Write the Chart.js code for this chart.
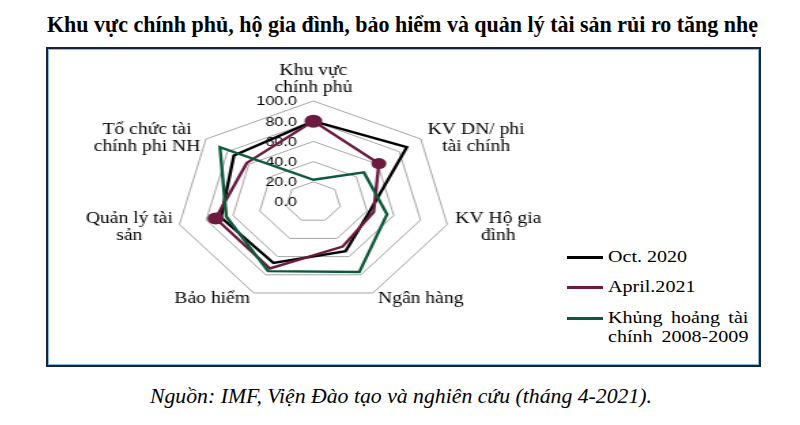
<!DOCTYPE html>
<html>
<head>
<meta charset="utf-8">
<script src="https://cdn.jsdelivr.net/npm/chart.js@4.4.1/dist/chart.umd.min.js"></script>
<style>
  html, body { margin: 0; padding: 0; background: #fff; }
  body { width: 800px; height: 425px; position: relative; overflow: hidden; }
  #title {
    position: absolute; left: 47px; top: 10px; white-space: nowrap;
    font: bold 24px/28px "Liberation Serif", "Times New Roman", serif;
    color: #000; transform-origin: 0 0;
  }
  #box {
    position: absolute; left: 46px; top: 47px; width: 711px; height: 316px;
    border: 2px solid #15263b; box-shadow: inset 0 0 0 1px #8ab8e0;
  }
  #radarWrap {
    position: absolute; left: 40px; top: 40px; width: 382px; height: 290px;
    transform: scaleX(1.36); transform-origin: 0 0;
  }
  .legend-row { position: absolute; left: 567px; height: 20px; }
  .legend-line { position: absolute; left: 0; width: 36px; height: 3px; }
  .legend-text {
    position: absolute; left: 41px; white-space: nowrap;
    font: 17px/19px "Liberation Serif", "Times New Roman", serif; color: #000;
    transform: scaleX(1.18); transform-origin: 0 0;
  }
  .legend-text.multi { white-space: normal; width: 119px; text-align: justify; text-align-last: justify; }
  #source {
    position: absolute; left: 150px; top: 383px; white-space: nowrap;
    font: italic 22px/25px "Liberation Serif", "Times New Roman", serif;
    color: #000; transform-origin: 0 0;
  }
</style>
</head>
<body>
<div id="title">Khu vực chính phủ, hộ gia đình, bảo hiểm và quản lý tài sản rủi ro tăng nhẹ</div>
<div id="box"></div>
<div id="radarWrap"><canvas id="radarChart" width="382" height="290"></canvas></div>
<div id="legend"></div>
<div id="source">Nguồn: IMF, Viện Đào tạo và nghiên cứu (tháng 4-2021).</div>

<script>
// Categories (spokes), clockwise from the top
const categoryLabels = [
    ['Khu vực', 'chính phủ'],
    ['KV DN/ phi', 'tài chính'],
    ['KV Hộ gia', 'đình'],
    'Ngân hàng',
    'Bảo hiểm',
    ['Quản lý tài', 'sản'],
    ['Tổ chức tài', 'chính phi NH']
];

// Series values
const octValues = [80, 87, 42, 54, 67, 69, 74];
const aprilValues = [80, 61, 45, 49, 73, 73, 62];
const crisisValues = [22, 47, 55, 77, 76, 65, 87];

// Series names (legend) and tick labels
const seriesNames = [['Oct. 2020'], ['April.2021'], ['Khủng hoảng tài', 'chính 2008-2009']];
const tickLabels = ['0.0', '20.0', '40.0', '60.0', '80.0', '100.0'];

const colors = {
    oct: '#000000',
    april: '#6d1a40',
    crisis: '#0d5a3b'
};

// Markers only on a few April points, as in the source chart
const aprilDots = [6.5, 5.5, 0, 0, 0, 6, 0];

const labelFont = '16px "Liberation Serif", "Times New Roman", serif';
const labelLineH = 17.5;
const labelTextScale = 0.9;

// Draws tick labels (left of the vertical axis) and centred multi-line spoke labels
const radarText = {
    id: 'radarText',
    beforeDatasetsDraw(chart) {
        const scale = chart.scales.r;
        const ctx = chart.ctx;
        ctx.save();
        ctx.fillStyle = '#000';
        ctx.font = '12px "Liberation Sans", Arial, sans-serif';
        ctx.textAlign = 'right';
        ctx.textBaseline = 'middle';
        scale.ticks.forEach(t => {
            const y = scale.yCenter - scale.getDistanceFromCenterForValue(t.value);
            ctx.fillText(t.label, scale.xCenter - 12, y + 1);
        });
        ctx.restore();
    },
    afterDraw(chart) {
        const scale = chart.scales.r;
        const ctx = chart.ctx;
        ctx.save();
        ctx.fillStyle = '#000';
        ctx.font = labelFont;
        chart.data.labels.forEach((lab, i) => {
            const lines = Array.isArray(lab) ? lab : [lab];
            const bw = Math.max(...lines.map(l => ctx.measureText(l).width * labelTextScale));
            const bh = lines.length * labelLineH;
            const p = scale.getPointPosition(i, scale.drawingArea + 4);
            const c = Math.cos(p.angle), s = Math.sin(p.angle);

            let left;
            if (Math.abs(c) < 0.1) left = p.x - bw / 2;
            else if (c > 0) left = p.x + 2;
            else left = p.x - bw - 1;

            const top = s < -0.95 ? p.y - bh : p.y - bh / 2 + 2;

            lines.forEach((l, j) => {
                ctx.save();
                ctx.translate(left + bw / 2, top + labelLineH * (j + 0.5));
                ctx.scale(labelTextScale, 1);
                ctx.textAlign = 'center';
                ctx.textBaseline = 'middle';
                ctx.fillText(l, 0, 0);
                ctx.restore();
            });
        });
        ctx.restore();
    }
};

new Chart(document.getElementById('radarChart'), {
    type: 'radar',
    data: {
        labels: categoryLabels,
        datasets: [
            {
                label: seriesNames[0].join(' '),
                data: octValues,
                borderColor: colors.oct,
                backgroundColor: 'transparent',
                borderWidth: 2.4,
                pointRadius: 0,
                fill: false,
                order: 3
            },
            {
                label: seriesNames[1].join(' '),
                data: aprilValues,
                borderColor: colors.april,
                backgroundColor: colors.april,
                borderWidth: 2.4,
                pointRadius: aprilDots,
                pointBackgroundColor: colors.april,
                pointBorderWidth: 0,
                fill: false,
                order: 2
            },
            {
                label: seriesNames[2].join(' '),
                data: crisisValues,
                borderColor: colors.crisis,
                backgroundColor: 'transparent',
                borderWidth: 2.4,
                pointRadius: 0,
                fill: false,
                order: 1
            }
        ]
    },
    options: {
        responsive: false,
        animation: false,
        layout: {
            padding: { left: 100, right: 79, top: 61, bottom: 26 }
        },
        plugins: {
            legend: { display: false },
            tooltip: { enabled: false }
        },
        elements: {
            line: { tension: 0, borderJoinStyle: 'miter' }
        },
        scales: {
            r: {
                min: 0,
                max: 100,
                angleLines: { display: false },
                grid: { color: '#a6a6a6', lineWidth: 1 },
                pointLabels: { display: false },
                ticks: {
                    display: false,
                    stepSize: 20,
                    callback: (v, i) => tickLabels[i]
                }
            }
        }
    },
    plugins: [radarText]
});

// HTML legend
const legend = document.getElementById('legend');
const legendColors = [colors.oct, colors.april, colors.crisis];
const legendY = [257, 287, 318];
seriesNames.forEach((name, i) => {
    const row = document.createElement('div');
    row.className = 'legend-row';
    row.style.top = (legendY[i] - 10) + 'px';
    const multi = name.length > 1;
    row.innerHTML = `
        <div class="legend-line" style="top: 9px; background: ${legendColors[i]}"></div>
        <div class="legend-text${multi ? ' multi' : ''}" style="top: 0px">${name.join('<br>')}</div>
    `;
    legend.appendChild(row);
});

// Fit title and source to the widths seen in the picture
function fitWidth(id, w) {
    const el = document.getElementById(id);
    const nat = el.getBoundingClientRect().width;
    el.style.transform = `scaleX(${w / nat})`;
}
fitWidth('title', 711);
fitWidth('source', 502);
</script>
</body>
</html>
